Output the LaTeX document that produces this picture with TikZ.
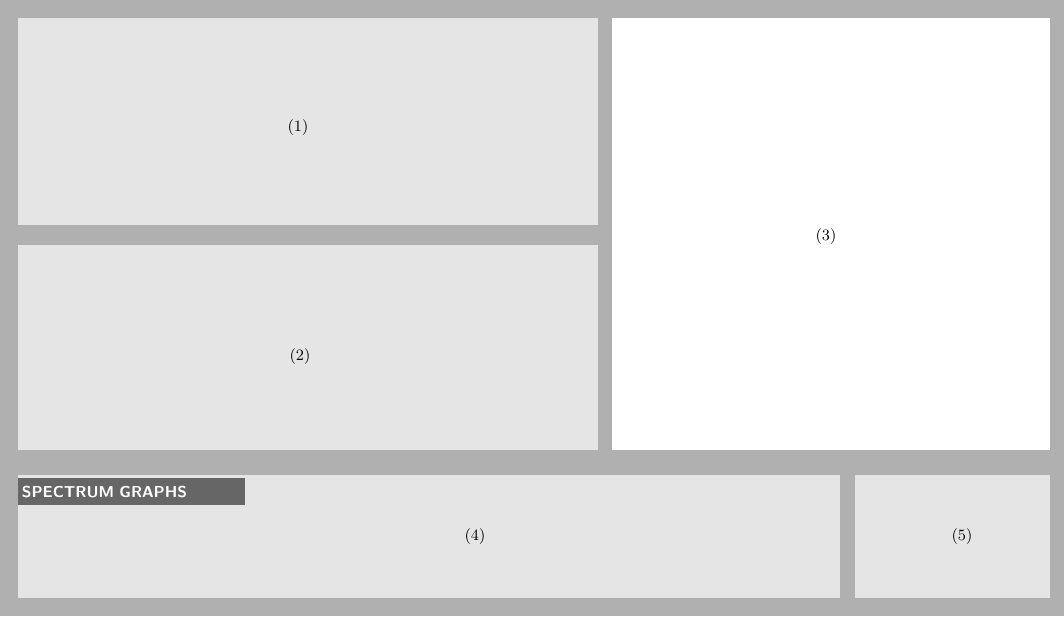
\documentclass[tikz,border=0pt]{standalone}
\usepackage{tikz}
\usetikzlibrary{positioning}

\begin{document}
\begin{tikzpicture}[x=0.02cm,y=-0.02cm]
  \tikzset{pane/.style={fill=gray!20},
           lbl/.style={inner sep=1pt,font=\small}}
  \fill[gray!62] (0,0) rectangle (1064,616);
  \fill[pane] (18,18) rectangle (598,225);
  \fill[pane] (18,245) rectangle (598,450);
  \fill[white] (612,18) rectangle (1050,450);
  \fill[pane] (18,475) rectangle (840,598);
  \fill[pane] (855,475) rectangle (1050,598);
  \node[fill=gray!80!black,text=white,anchor=north west,text width=4.4cm,minimum height=0.54cm,inner xsep=0.07cm,inner ysep=1pt,align=left,font=\sffamily\bfseries\small] (tab) at (18,478) {SPECTRUM GRAPHS};
  \node[lbl] (one) at (298,128) {(1)};
  \node[lbl] (two) at (300,357) {(2)};
  \node[lbl] (three) at (826,237) {(3)};
  \node[lbl] (four) at (475,537) {(4)};
  \node[lbl] (five) at (962,537) {(5)};
\end{tikzpicture}
\end{document}
